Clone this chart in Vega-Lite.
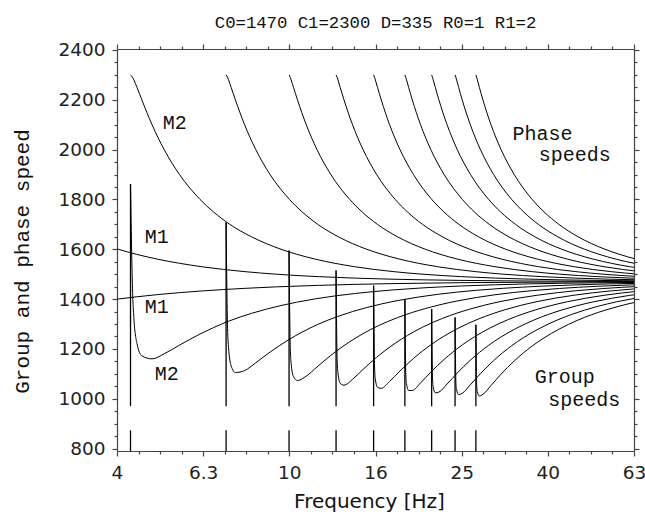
{
"$schema": "https://vega.github.io/schema/vega-lite/v6.json",
"width": 517, "height": 402,
"autosize": {"type": "none"},
"padding": {"left": 117, "top": 49, "right": 11, "bottom": 67},
"title": {"text": "C0=1470 C1=2300 D=335 R0=1 R1=2", "font": "Liberation Mono", "fontSize": 17.3, "fontWeight": "normal", "color": "#111", "anchor": "middle", "offset": 10},
"datasets": {
"curves": [
{"c":"p1","f":3.337,"s":1650},{"c":"p1","f":4.010,"s":1600},{"c":"p1","f":4.4115,"s":1580},{"c":"p1","f":4.951,"s":1560},{"c":"p1","f":6.255,"s":1530},{"c":"p1","f":7.895,"s":1510},{"c":"p1","f":9.299,"s":1500},{"c":"p1","f":11.683,"s":1490},{"c":"p1","f":17.123,"s":1480},{"c":"p1","f":24.876,"s":1475},{"c":"p1","f":40.29,"s":1472},{"c":"p1","f":57.69,"s":1471},{"c":"p1","f":82.33,"s":1470.5},
{"c":"g1","f":3.337,"s":1380.2},{"c":"g1","f":4.010,"s":1400.3},{"c":"g1","f":4.4115,"s":1408.9},{"c":"g1","f":4.951,"s":1418.0},{"c":"g1","f":6.255,"s":1432.5},{"c":"g1","f":7.895,"s":1443.1},{"c":"g1","f":9.299,"s":1448.9},{"c":"g1","f":11.683,"s":1455.0},{"c":"g1","f":17.123,"s":1461.9},{"c":"g1","f":24.876,"s":1465.7},{"c":"g1","f":40.29,"s":1468.2},{"c":"g1","f":57.69,"s":1469.1},{"c":"g1","f":82.33,"s":1469.5},
{"c":"p2","f":4.279,"s":2300},{"c":"p2","f":4.3275,"s":2290},{"c":"p2","f":4.356,"s":2280},{"c":"p2","f":4.4294,"s":2250},{"c":"p2","f":4.5457,"s":2200},{"c":"p2","f":4.8013,"s":2100},{"c":"p2","f":5.1229,"s":2000},{"c":"p2","f":5.5597,"s":1900},{"c":"p2","f":6.2047,"s":1800},{"c":"p2","f":6.6653,"s":1750},{"c":"p2","f":7.2751,"s":1700},{"c":"p2","f":8.1678,"s":1650},{"c":"p2","f":9.5666,"s":1600},{"c":"p2","f":10.3961,"s":1580},{"c":"p2","f":11.5052,"s":1560},{"c":"p2","f":14.167,"s":1530},{"c":"p2","f":17.490,"s":1510},{"c":"p2","f":20.324,"s":1500},{"c":"p2","f":25.118,"s":1490},{"c":"p2","f":36.028,"s":1480},{"c":"p2","f":51.55,"s":1475},{"c":"p2","f":82.39,"s":1472},
{"c":"g2","f":4.279,"s":1862},{"c":"g2","f":4.3275,"s":1426.2},{"c":"g2","f":4.356,"s":1325.9},{"c":"g2","f":4.4294,"s":1221.8},{"c":"g2","f":4.5457,"s":1172.3},{"c":"g2","f":4.8013,"s":1159.9},{"c":"g2","f":5.1229,"s":1180.3},{"c":"g2","f":5.5597,"s":1215.1},{"c":"g2","f":6.2047,"s":1259.8},{"c":"g2","f":6.6653,"s":1285.4},{"c":"g2","f":7.2751,"s":1313.0},{"c":"g2","f":8.1678,"s":1342.5},{"c":"g2","f":9.5666,"s":1374.1},{"c":"g2","f":10.3961,"s":1387.4},{"c":"g2","f":11.5052,"s":1401.0},{"c":"g2","f":14.167,"s":1422.2},{"c":"g2","f":17.490,"s":1437.0},{"c":"g2","f":20.324,"s":1444.7},{"c":"g2","f":25.118,"s":1452.6},{"c":"g2","f":36.028,"s":1461.0},{"c":"g2","f":51.55,"s":1465.3},{"c":"g2","f":82.39,"s":1468.1},
{"c":"p3","f":7.132,"s":2300},{"c":"p3","f":7.1889,"s":2290},{"c":"p3","f":7.2263,"s":2280},{"c":"p3","f":7.3275,"s":2250},{"c":"p3","f":7.4948,"s":2200},{"c":"p3","f":7.8735,"s":2100},{"c":"p3","f":8.3586,"s":2000},{"c":"p3","f":9.0226,"s":1900},{"c":"p3","f":10.0064,"s":1800},{"c":"p3","f":10.7089,"s":1750},{"c":"p3","f":11.6433,"s":1700},{"c":"p3","f":12.998,"s":1650},{"c":"p3","f":15.123,"s":1600},{"c":"p3","f":16.3809,"s":1580},{"c":"p3","f":18.059,"s":1560},{"c":"p3","f":22.079,"s":1530},{"c":"p3","f":27.086,"s":1510},{"c":"p3","f":31.350,"s":1500},{"c":"p3","f":38.554,"s":1490},{"c":"p3","f":54.934,"s":1480},{"c":"p3","f":78.22,"s":1475},
{"c":"g3","f":7.132,"s":1708},{"c":"g3","f":7.1889,"s":1282.4},{"c":"g3","f":7.2263,"s":1204.7},{"c":"g3","f":7.3275,"s":1132.2},{"c":"g3","f":7.4948,"s":1105.0},{"c":"g3","f":7.8735,"s":1112.8},{"c":"g3","f":8.3586,"s":1144.3},{"c":"g3","f":9.0226,"s":1187.2},{"c":"g3","f":10.0064,"s":1238.7},{"c":"g3","f":10.7089,"s":1267.5},{"c":"g3","f":11.6433,"s":1298.3},{"c":"g3","f":12.998,"s":1331.1},{"c":"g3","f":15.123,"s":1366.0},{"c":"g3","f":16.3809,"s":1380.6},{"c":"g3","f":18.059,"s":1395.6},{"c":"g3","f":22.079,"s":1418.9},{"c":"g3","f":27.086,"s":1435.0},{"c":"g3","f":31.350,"s":1443.3},{"c":"g3","f":38.554,"s":1451.8},{"c":"g3","f":54.934,"s":1460.7},{"c":"g3","f":78.22,"s":1465.2},
{"c":"p4","f":9.985,"s":2300},{"c":"p4","f":10.0503,"s":2290},{"c":"p4","f":10.0965,"s":2280},{"c":"p4","f":10.2255,"s":2250},{"c":"p4","f":10.4436,"s":2200},{"c":"p4","f":10.9458,"s":2100},{"c":"p4","f":11.5943,"s":2000},{"c":"p4","f":12.4856,"s":1900},{"c":"p4","f":13.808,"s":1800},{"c":"p4","f":14.7526,"s":1750},{"c":"p4","f":16.011,"s":1700},{"c":"p4","f":17.830,"s":1650},{"c":"p4","f":20.680,"s":1600},{"c":"p4","f":22.3658,"s":1580},{"c":"p4","f":24.614,"s":1560},{"c":"p4","f":29.991,"s":1530},{"c":"p4","f":36.682,"s":1510},{"c":"p4","f":42.375,"s":1500},{"c":"p4","f":51.990,"s":1490},{"c":"p4","f":73.84,"s":1480},
{"c":"g4","f":9.985,"s":1595},{"c":"g4","f":10.0503,"s":1204.7},{"c":"g4","f":10.0965,"s":1142.3},{"c":"g4","f":10.2255,"s":1088.4},{"c":"g4","f":10.4436,"s":1073.0},{"c":"g4","f":10.9458,"s":1090.6},{"c":"g4","f":11.5943,"s":1127.4},{"c":"g4","f":12.4856,"s":1174.0},{"c":"g4","f":13.808,"s":1228.7},{"c":"g4","f":14.7526,"s":1258.9},{"c":"g4","f":16.011,"s":1291.2},{"c":"g4","f":17.830,"s":1325.5},{"c":"g4","f":20.680,"s":1362.0},{"c":"g4","f":22.3658,"s":1377.3},{"c":"g4","f":24.614,"s":1392.9},{"c":"g4","f":29.991,"s":1417.2},{"c":"g4","f":36.682,"s":1434.0},{"c":"g4","f":42.375,"s":1442.6},{"c":"g4","f":51.990,"s":1451.4},{"c":"g4","f":73.84,"s":1460.5},
{"c":"p5","f":12.837,"s":2300},{"c":"p5","f":12.9117,"s":2290},{"c":"p5","f":12.9668,"s":2280},{"c":"p5","f":13.1236,"s":2250},{"c":"p5","f":13.3926,"s":2200},{"c":"p5","f":14.018,"s":2100},{"c":"p5","f":14.830,"s":2000},{"c":"p5","f":15.9485,"s":1900},{"c":"p5","f":17.610,"s":1800},{"c":"p5","f":18.7962,"s":1750},{"c":"p5","f":20.380,"s":1700},{"c":"p5","f":22.660,"s":1650},{"c":"p5","f":26.237,"s":1600},{"c":"p5","f":28.3506,"s":1580},{"c":"p5","f":31.168,"s":1560},{"c":"p5","f":37.903,"s":1530},{"c":"p5","f":46.278,"s":1510},{"c":"p5","f":53.400,"s":1500},{"c":"p5","f":65.426,"s":1490},
{"c":"g5","f":12.837,"s":1515},{"c":"g5","f":12.9117,"s":1155.9},{"c":"g5","f":12.9668,"s":1104.3},{"c":"g5","f":13.1236,"s":1062.3},{"c":"g5","f":13.3926,"s":1054.1},{"c":"g5","f":14.018,"s":1077.7},{"c":"g5","f":14.830,"s":1117.6},{"c":"g5","f":15.9485,"s":1166.4},{"c":"g5","f":17.610,"s":1222.8},{"c":"g5","f":18.7962,"s":1253.9},{"c":"g5","f":20.380,"s":1287.1},{"c":"g5","f":22.660,"s":1322.3},{"c":"g5","f":26.237,"s":1359.7},{"c":"g5","f":28.3506,"s":1375.3},{"c":"g5","f":31.168,"s":1391.4},{"c":"g5","f":37.903,"s":1416.2},{"c":"g5","f":46.278,"s":1433.4},{"c":"g5","f":53.400,"s":1442.2},{"c":"g5","f":65.426,"s":1451.2},
{"c":"p6","f":15.690,"s":2300},{"c":"p6","f":15.7731,"s":2290},{"c":"p6","f":15.8370,"s":2280},{"c":"p6","f":16.0216,"s":2250},{"c":"p6","f":16.3416,"s":2200},{"c":"p6","f":17.090,"s":2100},{"c":"p6","f":18.066,"s":2000},{"c":"p6","f":19.4115,"s":1900},{"c":"p6","f":21.412,"s":1800},{"c":"p6","f":22.8398,"s":1750},{"c":"p6","f":24.748,"s":1700},{"c":"p6","f":27.491,"s":1650},{"c":"p6","f":31.794,"s":1600},{"c":"p6","f":34.3355,"s":1580},{"c":"p6","f":37.723,"s":1560},{"c":"p6","f":45.816,"s":1530},{"c":"p6","f":55.874,"s":1510},{"c":"p6","f":64.43,"s":1500},
{"c":"g6","f":15.690,"s":1454},{"c":"g6","f":15.7731,"s":1122.5},{"c":"g6","f":15.8370,"s":1078.7},{"c":"g6","f":16.0216,"s":1045.1},{"c":"g6","f":16.3416,"s":1041.8},{"c":"g6","f":17.090,"s":1069.3},{"c":"g6","f":18.066,"s":1111.2},{"c":"g6","f":19.4115,"s":1161.4},{"c":"g6","f":21.412,"s":1219.0},{"c":"g6","f":22.8398,"s":1250.7},{"c":"g6","f":24.748,"s":1284.3},{"c":"g6","f":27.491,"s":1320.1},{"c":"g6","f":31.794,"s":1358.1},{"c":"g6","f":34.3355,"s":1374.0},{"c":"g6","f":37.723,"s":1390.3},{"c":"g6","f":45.816,"s":1415.6},{"c":"g6","f":55.874,"s":1433.0},{"c":"g6","f":64.43,"s":1442.0},
{"c":"p7","f":18.543,"s":2300},{"c":"p7","f":18.6345,"s":2290},{"c":"p7","f":18.7073,"s":2280},{"c":"p7","f":18.9197,"s":2250},{"c":"p7","f":19.2905,"s":2200},{"c":"p7","f":20.163,"s":2100},{"c":"p7","f":21.302,"s":2000},{"c":"p7","f":22.874,"s":1900},{"c":"p7","f":25.213,"s":1800},{"c":"p7","f":26.8835,"s":1750},{"c":"p7","f":29.116,"s":1700},{"c":"p7","f":32.322,"s":1650},{"c":"p7","f":37.350,"s":1600},{"c":"p7","f":40.3203,"s":1580},{"c":"p7","f":44.277,"s":1560},{"c":"p7","f":53.728,"s":1530},{"c":"p7","f":65.47,"s":1510},
{"c":"g7","f":18.543,"s":1399},{"c":"g7","f":18.6345,"s":1098.2},{"c":"g7","f":18.7073,"s":1060.3},{"c":"g7","f":18.9197,"s":1032.9},{"c":"g7","f":19.2905,"s":1033.1},{"c":"g7","f":20.163,"s":1063.4},{"c":"g7","f":21.302,"s":1106.6},{"c":"g7","f":22.874,"s":1157.8},{"c":"g7","f":25.213,"s":1216.3},{"c":"g7","f":26.8835,"s":1248.3},{"c":"g7","f":29.116,"s":1282.4},{"c":"g7","f":32.322,"s":1318.6},{"c":"g7","f":37.350,"s":1357.1},{"c":"g7","f":40.3203,"s":1373.1},{"c":"g7","f":44.277,"s":1389.6},{"c":"g7","f":53.728,"s":1415.1},{"c":"g7","f":65.47,"s":1432.7},
{"c":"p8","f":21.396,"s":2300},{"c":"p8","f":21.4959,"s":2290},{"c":"p8","f":21.5775,"s":2280},{"c":"p8","f":21.8177,"s":2250},{"c":"p8","f":22.2395,"s":2200},{"c":"p8","f":23.235,"s":2100},{"c":"p8","f":24.537,"s":2000},{"c":"p8","f":26.337,"s":1900},{"c":"p8","f":29.015,"s":1800},{"c":"p8","f":30.9271,"s":1750},{"c":"p8","f":33.484,"s":1700},{"c":"p8","f":37.153,"s":1650},{"c":"p8","f":42.907,"s":1600},{"c":"p8","f":46.3052,"s":1580},{"c":"p8","f":50.831,"s":1560},{"c":"p8","f":61.640,"s":1530},{"c":"p8","f":75.06,"s":1510},
{"c":"g8","f":21.396,"s":1360},{"c":"g8","f":21.4959,"s":1079.7},{"c":"g8","f":21.5775,"s":1046.5},{"c":"g8","f":21.8177,"s":1023.7},{"c":"g8","f":22.2395,"s":1026.6},{"c":"g8","f":23.235,"s":1058.9},{"c":"g8","f":24.537,"s":1103.3},{"c":"g8","f":26.337,"s":1155.2},{"c":"g8","f":29.015,"s":1214.3},{"c":"g8","f":30.9271,"s":1246.6},{"c":"g8","f":33.484,"s":1280.9},{"c":"g8","f":37.153,"s":1317.4},{"c":"g8","f":42.907,"s":1356.2},{"c":"g8","f":46.3052,"s":1372.4},{"c":"g8","f":50.831,"s":1389.0},{"c":"g8","f":61.640,"s":1414.8},{"c":"g8","f":75.06,"s":1432.5},
{"c":"p9","f":24.248,"s":2300},{"c":"p9","f":24.3573,"s":2290},{"c":"p9","f":24.4478,"s":2280},{"c":"p9","f":24.7158,"s":2250},{"c":"p9","f":25.1885,"s":2200},{"c":"p9","f":26.307,"s":2100},{"c":"p9","f":27.773,"s":2000},{"c":"p9","f":29.800,"s":1900},{"c":"p9","f":32.817,"s":1800},{"c":"p9","f":34.9708,"s":1750},{"c":"p9","f":37.852,"s":1700},{"c":"p9","f":41.983,"s":1650},{"c":"p9","f":48.464,"s":1600},{"c":"p9","f":52.290,"s":1580},{"c":"p9","f":57.386,"s":1560},{"c":"p9","f":69.55,"s":1530},
{"c":"g9","f":24.248,"s":1326},{"c":"g9","f":24.3573,"s":1065.2},{"c":"g9","f":24.4478,"s":1035.6},{"c":"g9","f":24.7158,"s":1016.6},{"c":"g9","f":25.1885,"s":1021.6},{"c":"g9","f":26.307,"s":1055.5},{"c":"g9","f":27.773,"s":1100.7},{"c":"g9","f":29.800,"s":1153.1},{"c":"g9","f":32.817,"s":1212.7},{"c":"g9","f":34.9708,"s":1245.3},{"c":"g9","f":37.852,"s":1279.8},{"c":"g9","f":41.983,"s":1316.6},{"c":"g9","f":48.464,"s":1355.6},{"c":"g9","f":52.290,"s":1371.9},{"c":"g9","f":57.386,"s":1388.6},{"c":"g9","f":69.55,"s":1414.5},
{"c":"p10","f":27.101,"s":2300},{"c":"p10","f":27.2185,"s":2290},{"c":"p10","f":27.318,"s":2280},{"c":"p10","f":27.6138,"s":2250},{"c":"p10","f":28.1375,"s":2200},{"c":"p10","f":29.380,"s":2100},{"c":"p10","f":31.009,"s":2000},{"c":"p10","f":33.263,"s":1900},{"c":"p10","f":36.619,"s":1800},{"c":"p10","f":39.0144,"s":1750},{"c":"p10","f":42.221,"s":1700},{"c":"p10","f":46.814,"s":1650},{"c":"p10","f":54.021,"s":1600},{"c":"p10","f":58.275,"s":1580},{"c":"p10","f":63.94,"s":1560},
{"c":"g10","f":27.101,"s":1297},{"c":"g10","f":27.2185,"s":1053.4},{"c":"g10","f":27.318,"s":1027.0},{"c":"g10","f":27.6138,"s":1010.9},{"c":"g10","f":28.1375,"s":1017.6},{"c":"g10","f":29.380,"s":1052.8},{"c":"g10","f":31.009,"s":1098.6},{"c":"g10","f":33.263,"s":1151.5},{"c":"g10","f":36.619,"s":1211.5},{"c":"g10","f":39.0144,"s":1244.2},{"c":"g10","f":42.221,"s":1278.9},{"c":"g10","f":46.814,"s":1315.9},{"c":"g10","f":54.021,"s":1355.1},{"c":"g10","f":58.275,"s":1371.5},{"c":"g10","f":63.94,"s":1388.3}
],
"cut": [
{"f":4.279,"top":1862},{"f":7.132,"top":1708},{"f":9.985,"top":1595},{"f":12.837,"top":1515},{"f":15.690,"top":1454},{"f":18.543,"top":1399},{"f":21.396,"top":1360},{"f":24.248,"top":1326},{"f":27.101,"top":1297}
],
"notes": [
{"t":"M2","f":5.423,"s":2107},{"t":"M1","f":4.925,"s":1649},{"t":"M1","f":4.925,"s":1368},{"t":"M2","f":5.196,"s":1099},
{"t":"Phase","f":38.67,"s":2063},{"t":"speeds","f":45.98,"s":1979},{"t":"Group","f":43.60,"s":1087},{"t":"speeds","f":48.38,"s":995}
]
},
"layer": [
{"data": {"name": "curves"},
 "mark": {"type": "line", "color": "#000", "strokeWidth": 1, "clip": true, "interpolate": "monotone"},
 "encoding": {
  "x": {"field": "f", "type": "quantitative", "scale": {"type": "log", "domain": [3.981, 63.096], "nice": false},
        "axis": {"orient": "bottom", "values": [3.9811, 6.3096, 10, 15.849, 25.119, 39.811, 63.095],
                 "labelExpr": "datum.value < 5 ? '4' : datum.value < 8 ? '6.3' : datum.value < 12 ? '10' : datum.value < 20 ? '16' : datum.value < 30 ? '25' : datum.value < 50 ? '40' : '63'",
                 "title": "Frequency [Hz]", "tickSize": 5, "labelPadding": 7, "labelFlush": false, "labelOverlap": false, "labelBound": false,
                 "titleX": 252, "titleY": 50, "titleBaseline": "middle", "titleAlign": "center", "titleFont": "DejaVu Sans", "titleFontSize": 20}},
  "y": {"field": "s", "type": "quantitative", "scale": {"domain": [790, 2404], "nice": false, "zero": false},
        "axis": {"orient": "left", "values": [800, 1000, 1200, 1400, 1600, 1800, 2000, 2200, 2400], "format": "d",
                 "title": "Group and phase speed", "tickSize": 5, "labelPadding": 7, "labelOverlap": false,
                 "titleFont": "Liberation Mono", "titleFontSize": 21, "titleX": -95, "titleY": 212, "titleAngle": -90, "titleBaseline": "middle", "titleAlign": "center"}},
  "detail": {"field": "c"}
 }},
{"data": {"name": "cut"},
 "mark": {"type": "rule", "color": "#000", "strokeWidth": 1.3},
 "encoding": {
  "x": {"field": "f", "type": "quantitative", "scale": {"type": "log", "domain": [3.981, 63.096], "nice": false},
        "axis": {"orient": "top", "values": [3.9811, 6.3096, 10, 15.849, 25.119, 39.811, 63.095], "labels": false, "title": null, "tickSize": 5}},
  "y": {"field": "top", "type": "quantitative", "scale": {"domain": [790, 2404], "nice": false, "zero": false},
        "axis": {"orient": "right", "values": [800, 1000, 1200, 1400, 1600, 1800, 2000, 2200, 2400], "labels": false, "title": null, "tickSize": 5}},
  "y2": {"datum": 970}
 }},
{"data": {"name": "cut"},
 "mark": {"type": "rule", "color": "#000", "strokeWidth": 1.3},
 "encoding": {
  "x": {"field": "f", "type": "quantitative", "scale": {"type": "log", "domain": [3.981, 63.096], "nice": false},
        "axis": {"orient": "bottom", "values": [4.4668, 5.0119, 5.6234, 7.0795, 7.9433, 8.9125, 11.2202, 12.5893, 14.1254, 17.7828, 19.9526, 22.3872, 28.1838, 31.6228, 35.4813, 44.6684, 50.1187, 56.2341], "labels": false, "title": null, "tickSize": 3, "domain": false}},
  "y": {"datum": 790, "type": "quantitative", "scale": {"domain": [790, 2404], "nice": false, "zero": false}, "axis": null},
  "y2": {"datum": 873}
 }},
{"data": {"name": "notes"},
 "mark": {"type": "text", "font": "Liberation Mono", "fontSize": 20, "color": "#111", "baseline": "middle", "align": "center"},
 "encoding": {
  "x": {"field": "f", "type": "quantitative", "scale": {"type": "log", "domain": [3.981, 63.096], "nice": false},
        "axis": {"orient": "top", "values": [4.4668, 5.0119, 5.6234, 7.0795, 7.9433, 8.9125, 11.2202, 12.5893, 14.1254, 17.7828, 19.9526, 22.3872, 28.1838, 31.6228, 35.4813, 44.6684, 50.1187, 56.2341], "labels": false, "title": null, "tickSize": 3, "domain": false}},
  "y": {"field": "s", "type": "quantitative", "scale": {"domain": [790, 2404], "nice": false, "zero": false},
        "axis": {"orient": "right", "values": [850, 900, 950, 1050, 1100, 1150, 1250, 1300, 1350, 1450, 1500, 1550, 1650, 1700, 1750, 1850, 1900, 1950, 2050, 2100, 2150, 2250, 2300, 2350], "labels": false, "title": null, "tickSize": 3, "domain": false}},
  "text": {"field": "t"}
 }},
{"data": {"name": "cut"},
 "mark": {"type": "point", "opacity": 0},
 "encoding": {
  "x": {"field": "f", "type": "quantitative", "scale": {"type": "log", "domain": [3.981, 63.096], "nice": false}, "axis": null},
  "y": {"field": "top", "type": "quantitative", "scale": {"domain": [790, 2404], "nice": false, "zero": false},
        "axis": {"orient": "left", "values": [850, 900, 950, 1050, 1100, 1150, 1250, 1300, 1350, 1450, 1500, 1550, 1650, 1700, 1750, 1850, 1900, 1950, 2050, 2100, 2150, 2250, 2300, 2350], "labels": false, "title": null, "tickSize": 3, "domain": false}}
 }}
],
"resolve": {"axis": {"x": "independent", "y": "independent"}},
"config": {
 "view": {"stroke": null},
 "axis": {"grid": false, "domainColor": "#444", "domainWidth": 1.2, "tickColor": "#444", "tickWidth": 1.2, "labelColor": "#222", "labelFont": "DejaVu Sans", "labelFontSize": 18.5, "titleColor": "#111", "titleFontWeight": "normal"}
}
}
